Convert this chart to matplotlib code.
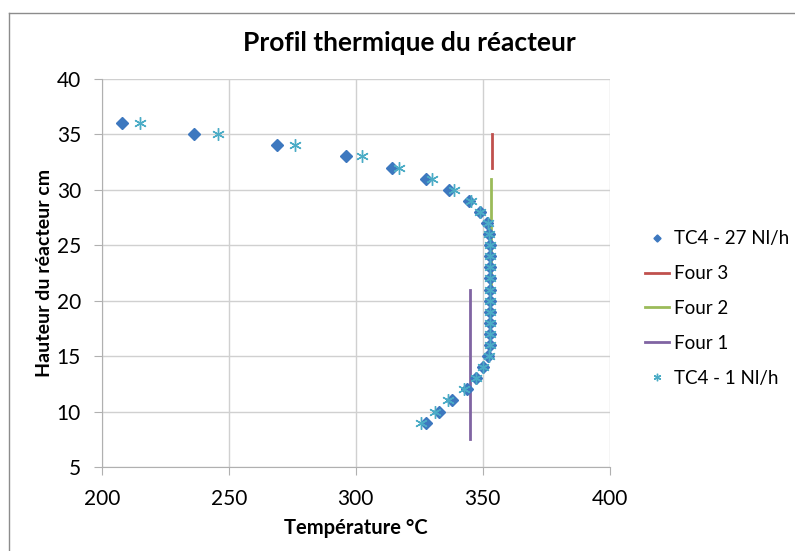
import numpy as np
import matplotlib
matplotlib.use("Agg")
import matplotlib.pyplot as plt

plt.rcParams['font.family'] = ['Lato', 'DejaVu Sans']

# Data
heights = [36, 35, 34, 33, 32, 31, 30, 29, 28, 27, 26, 25, 24, 23, 22, 21, 20,
           19, 18, 17, 16, 15, 14, 13, 12, 11, 10, 9]
temp_27 = [208.0, 236.2, 268.9, 296.3, 314.4, 327.6, 336.6, 344.5, 348.8, 351.8,
           352.4, 352.9, 353.0, 353.0, 353.0, 353.0, 353.0, 353.0, 353.0, 353.0,
           353.0, 352.2, 350.0, 347.5, 343.6, 338.0, 332.8, 327.8]
temp_1 = [215.0, 245.7, 276.0, 302.6, 317.0, 330.2, 338.6, 345.5, 349.0, 352.0,
          352.6, 353.0, 353.0, 353.0, 353.0, 353.0, 353.0, 353.0, 353.0, 353.0,
          353.0, 352.4, 350.0, 347.2, 342.5, 336.5, 331.0, 325.8]

four3_x = [353.6, 353.6]
four3_y = [32, 35]
four2_x = [353.3, 353.3]
four2_y = [21, 31]
four1_x = [345.1, 345.1]
four1_y = [7.5, 21]

fig = plt.figure(figsize=(7.95, 5.51), dpi=100)
ax = fig.add_axes([0.128, 0.1525, 0.639, 0.7045])

ax.plot(temp_27, heights, linestyle='none', marker='D', markersize=6,
        color='#3D78BF', label='TC4 - 27 Nl/h', zorder=4)
ax.plot(four3_x, four3_y, color='#C0504D', lw=2, label='Four 3', zorder=3)
ax.plot(four2_x, four2_y, color='#9BBB59', lw=2, label='Four 2', zorder=3)
ax.plot(four1_x, four1_y, color='#8064A2', lw=2, label='Four 1', zorder=3)
ax.plot(temp_1, heights, linestyle='none', marker=(6, 2, 0), markersize=9,
        markeredgewidth=1.0, color='#4BACC6', label='TC4 - 1 Nl/h', zorder=5)

ax.set_xlim(200, 400)
ax.set_ylim(5, 40)
ax.set_xticks(np.arange(200, 401, 50))
ax.set_yticks(np.arange(5, 41, 5))
ax.grid(True, color='#D0D0D0', lw=1)
ax.set_axisbelow(True)
for s in ['top', 'right']:
    ax.spines[s].set_visible(False)
for s in ['left', 'bottom']:
    ax.spines[s].set_color('#B0B0B0')
ax.tick_params(length=6, color='#B0B0B0', labelsize=15)
ax.tick_params(axis='x', pad=10)
ax.tick_params(axis='y', pad=9)

ax.set_xlabel('Température °C', fontsize=14.5, fontweight='bold', labelpad=6)
ax.set_ylabel('Hauteur du réacteur cm', fontsize=14, fontweight='bold', labelpad=3)
fig.text(0.515, 0.922, 'Profil thermique du réacteur', fontsize=19,
         fontweight='bold', ha='center', va='center')

ax.legend(loc='center left', bbox_to_anchor=(0.802, 0.44),
          bbox_transform=fig.transFigure, frameon=False, fontsize=13.5,
          handlelength=1.3, handletextpad=0.25, labelspacing=0.95,
          borderaxespad=0, markerscale=0.6)

# chart frame (cropped on the right and bottom)
fig.add_artist(plt.Line2D([9 / 795, 9 / 795], [0, 1 - 13 / 551],
                          transform=fig.transFigure, color='#8C8C8C', lw=1))
fig.add_artist(plt.Line2D([9 / 795, 1], [1 - 13 / 551, 1 - 13 / 551],
                          transform=fig.transFigure, color='#8C8C8C', lw=1))

fig.savefig('out.png', dpi=100)
